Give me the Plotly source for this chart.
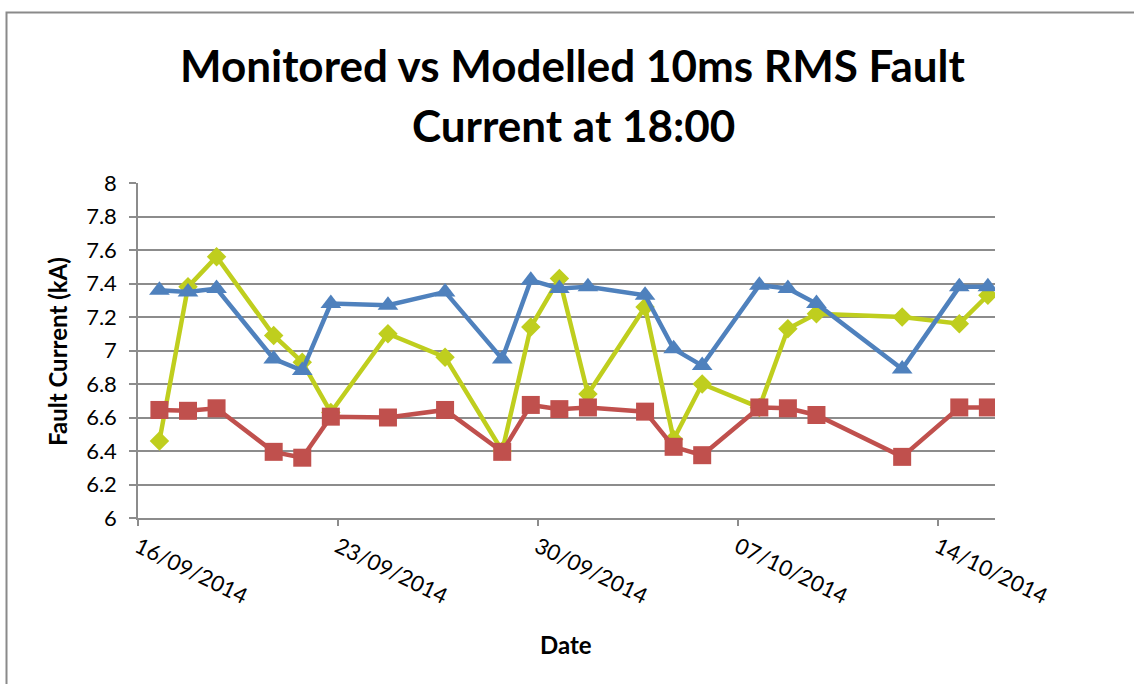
import plotly.graph_objects as go

dates = ["2014-09-16", "2014-09-17", "2014-09-18", "2014-09-20", "2014-09-21",
         "2014-09-22", "2014-09-24", "2014-09-26", "2014-09-28", "2014-09-29",
         "2014-09-30", "2014-10-01", "2014-10-03", "2014-10-04", "2014-10-05",
         "2014-10-07", "2014-10-08", "2014-10-09", "2014-10-12", "2014-10-14",
         "2014-10-15"]
times = [d + " 18:00" for d in dates]

monitored = [6.46, 7.38, 7.56, 7.09, 6.93, 6.63, 7.10, 6.96, 6.40, 7.14,
             7.43, 6.74, 7.26, 6.47, 6.80, 6.66, 7.13, 7.22, 7.20, 7.16, 7.33]
modelled_a = [7.36, 7.35, 7.37, 6.95, 6.88, 7.28, 7.27, 7.35, 6.95, 7.42,
              7.37, 7.38, 7.33, 7.01, 6.91, 7.39, 7.37, 7.28, 6.89, 7.38, 7.38]
modelled_b = [6.645, 6.64, 6.655, 6.395, 6.36, 6.605, 6.60, 6.645, 6.395, 6.675,
              6.65, 6.66, 6.635, 6.425, 6.375, 6.66, 6.655, 6.615, 6.365, 6.66, 6.66]

title_lines = ["Monitored vs Modelled 10ms RMS Fault", "Current at 18:00"]

GREEN = "#BFCE1E"
BLUE = "#4F81BD"
RED = "#C0504D"
GRID = "#8C8C8C"
FONT = "Lato"

fig = go.Figure()
fig.add_trace(go.Scatter(x=times, y=monitored, mode="lines+markers", name="Monitored",
                         line=dict(color=GREEN, width=4.5),
                         marker=dict(symbol="diamond", size=15, color=GREEN)))
fig.add_trace(go.Scatter(x=times, y=modelled_b, mode="lines+markers", name="Modelled B",
                         line=dict(color=RED, width=4.5),
                         marker=dict(symbol="square", size=18, color=RED)))
fig.add_trace(go.Scatter(x=times, y=modelled_a, mode="lines+markers", name="Modelled A",
                         line=dict(color=BLUE, width=4.5),
                         marker=dict(symbol="triangle-up", size=18, color=BLUE)))

W, H = 1134, 684
L, T = 138, 183
R = W - 995
B = H - 518
pw, ph = W - L - R, H - T - B

def px(x):
    return (x - L) / pw

def py(y):
    return (H - B - y) / ph

annotations = [
    dict(text="<b>%s</b>" % title_lines[0], x=px(573), y=py(65), xref="paper", yref="paper",
         showarrow=False, xanchor="center", yanchor="middle",
         font=dict(family=FONT, size=44, color="black")),
    dict(text="<b>%s</b>" % title_lines[1], x=px(573), y=py(125), xref="paper", yref="paper",
         showarrow=False, xanchor="center", yanchor="middle",
         font=dict(family=FONT, size=44, color="black")),
    dict(text="<b>Date</b>", x=px(566), y=py(644), xref="paper", yref="paper",
         showarrow=False, xanchor="center", yanchor="middle",
         font=dict(family=FONT, size=24, color="black")),
    dict(text="<b>Fault Current (kA)</b>", x=px(57), y=py(352), xref="paper", yref="paper",
         showarrow=False, xanchor="center", yanchor="middle", textangle=-90,
         font=dict(family=FONT, size=24, color="black")),
]

fig.update_layout(
    width=W, height=H,
    margin=dict(l=L, r=R, t=T, b=B),
    paper_bgcolor="white", plot_bgcolor="white",
    showlegend=False,
    annotations=annotations,
    shapes=[dict(type="rect", xref="paper", yref="paper",
                 x0=px(6.5), y0=py(720), x1=px(1180), y1=py(12.5),
                 line=dict(color="#8A8A8A", width=2), layer="below")],
    font=dict(family=FONT, size=22, color="black"),
)

fig.update_xaxes(
    type="date", range=["2014-09-16", "2014-10-16"],
    tick0="2014-09-16", dtick=7 * 24 * 3600 * 1000, tickformat="%d/%m/%Y",
    tickangle=26, ticks="outside", ticklen=6, tickcolor=GRID, tickwidth=1.5,
    showline=True, linecolor=GRID, linewidth=1.5, showgrid=False, zeroline=False,
    tickfont=dict(family=FONT, size=22, color="black"),
)
fig.update_yaxes(
    range=[6, 8], dtick=0.2, tick0=6,
    ticks="outside", ticklen=7, tickcolor=GRID, tickwidth=1.5,
    showline=True, linecolor=GRID, linewidth=1.5,
    showgrid=True, gridcolor=GRID, gridwidth=1.5, zeroline=False,
    tickfont=dict(family=FONT, size=22, color="black"),
    ticklabelstandoff=8,
)

fig.write_html("out.html", config={"displayModeBar": False},
               post_script="document.body.style.margin='0px';")
